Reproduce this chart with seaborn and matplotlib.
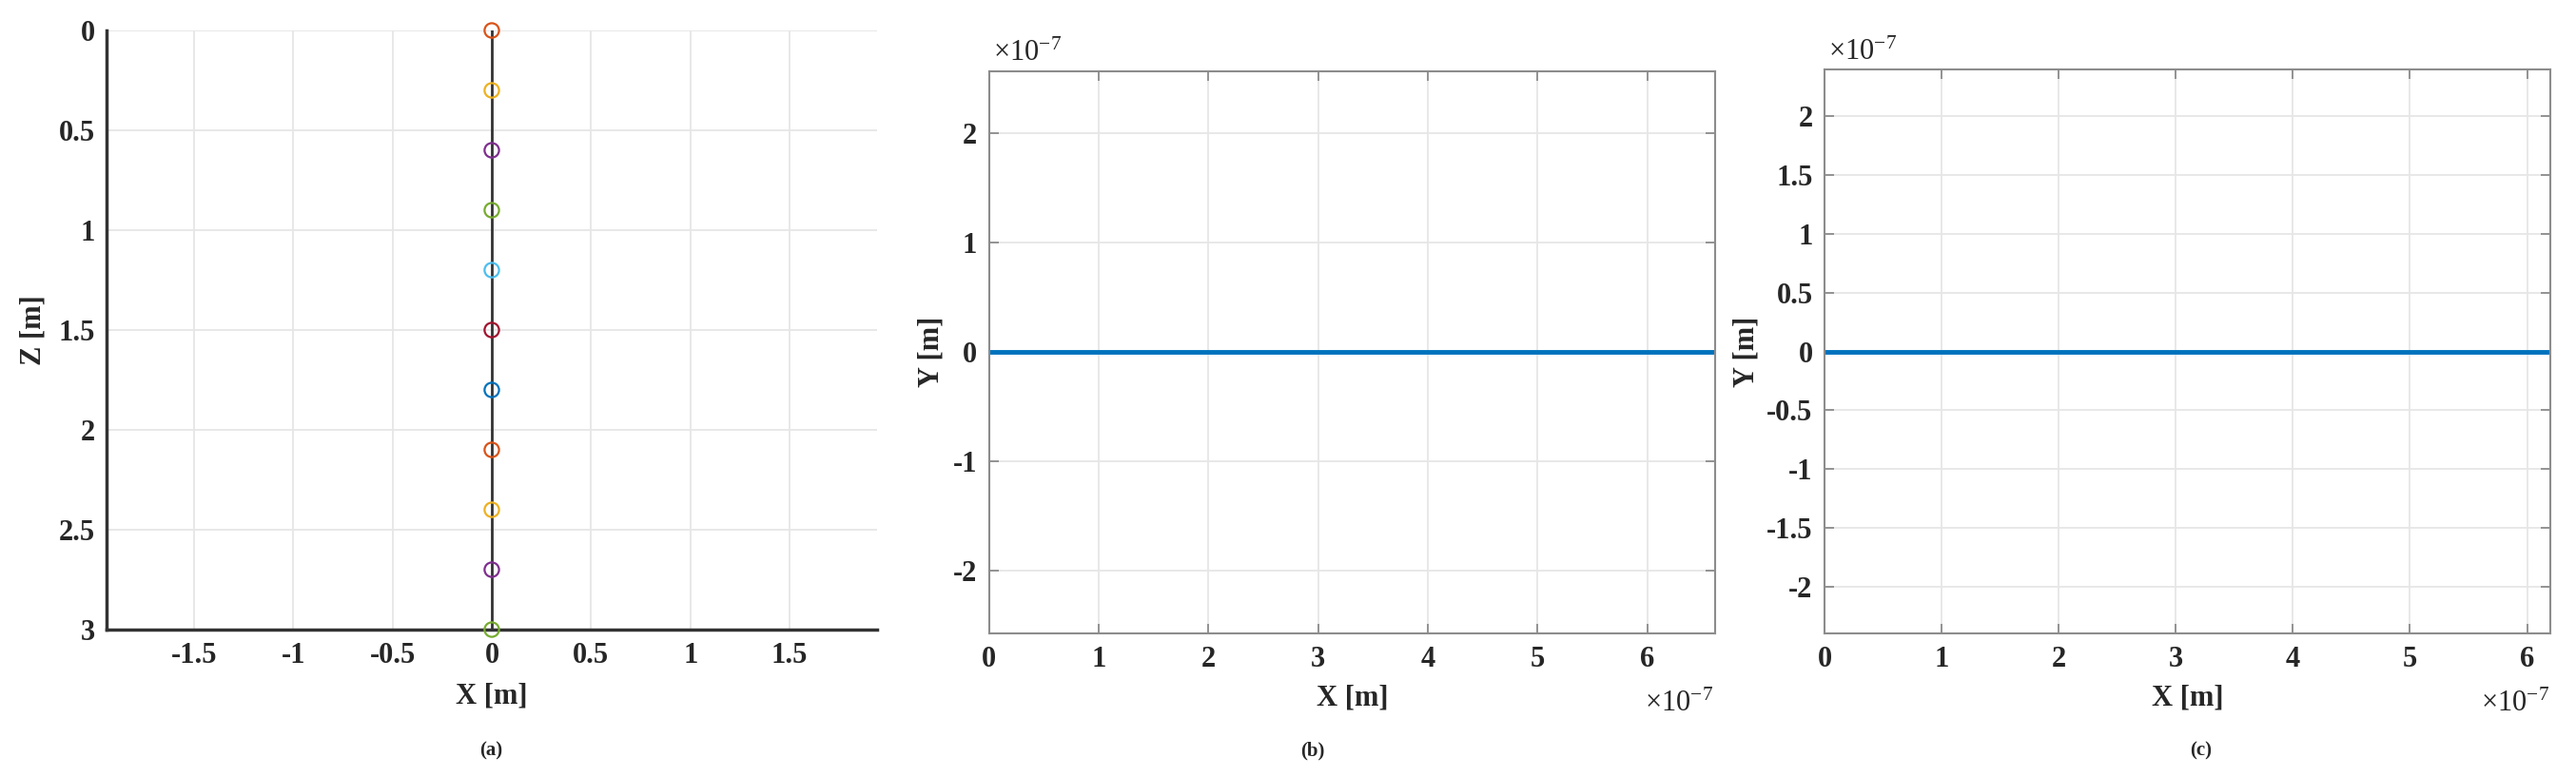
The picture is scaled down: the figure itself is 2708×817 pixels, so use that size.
import matplotlib
matplotlib.use("Agg")
import matplotlib.pyplot as plt
import seaborn as sns
import numpy as np
import pandas as pd
from matplotlib.ticker import FuncFormatter

# ---- datos ----
# (a) posiciones de los nodos del cable
x_nodos = [0, 0, 0, 0, 0, 0, 0, 0, 0, 0, 0]
z_nodos = [0.0, 0.3, 0.6, 0.9, 1.2, 1.5, 1.8, 2.1, 2.4, 2.7, 3.0]
colores_nodos = ["#D95319", "#EDB120", "#7E2F8E", "#77AC30", "#4DBEEE", "#A2142F",
                 "#0072BD", "#D95319", "#EDB120", "#7E2F8E", "#77AC30"]
# (b) trayectoria X-Y
x_b = [0.0, 1e-7, 2e-7, 3e-7, 4e-7, 5e-7, 6e-7, 6.62e-7]
y_b = [0, 0, 0, 0, 0, 0, 0, 0]
# (c) trayectoria X-Y
x_c = [0.0, 1e-7, 2e-7, 3e-7, 4e-7, 5e-7, 6e-7, 6.2e-7]
y_c = [0, 0, 0, 0, 0, 0, 0, 0]

sns.set_style("white")
plt.rcParams['font.family'] = ['Liberation Serif', 'DejaVu Serif']
plt.rcParams['mathtext.fontset'] = 'custom'
plt.rcParams['mathtext.rm'] = 'Liberation Serif'
plt.rcParams['mathtext.default'] = 'rm'
plt.rcParams['axes.unicode_minus'] = False

fs = 22
grid_c = "#e6e6e6"

fig = plt.figure(figsize=(27.08, 8.17), dpi=100)

# ------------------ (a) ------------------
ax1 = fig.add_axes([0.04136, 0.1897, 0.2991, 0.7711])
df_a = pd.DataFrame({"x": x_nodos, "z": z_nodos, "nodo": range(len(z_nodos))})
sns.lineplot(data=df_a, x="x", y="z", sort=False, estimator=None, color="#333333",
             lw=2, ax=ax1, zorder=2)
sns.scatterplot(data=df_a, x="x", y="z", hue="nodo", palette=colores_nodos, s=120,
                linewidth=1.6, legend=False, ax=ax1, zorder=3, clip_on=False)
pts = ax1.collections[-1]
pts.set_edgecolors(pts.get_facecolors())
pts.set_facecolors("none")

ax1.set_xlim(-1.94, 1.94)
ax1.set_ylim(3, 0)
ax1.set_xticks([-1.5, -1, -0.5, 0, 0.5, 1, 1.5])
ax1.set_yticks([0, 0.5, 1, 1.5, 2, 2.5, 3])
ax1.xaxis.set_major_formatter(FuncFormatter(lambda v, p: f"{v:g}"))
ax1.yaxis.set_major_formatter(FuncFormatter(lambda v, p: f"{v:g}"))
ax1.grid(True, color=grid_c, lw=1.3)
for s in ["top", "right"]:
    ax1.spines[s].set_visible(False)
for s in ["left", "bottom"]:
    ax1.spines[s].set_color("#333333")
    ax1.spines[s].set_linewidth(2.5)
ax1.tick_params(direction="in", length=8, width=1.5, color="#333333", labelsize=fs, pad=9)
for t in ax1.get_xticklabels() + ax1.get_yticklabels():
    t.set_fontweight("bold")
ax1.set_xlabel("X [m]", fontsize=fs, fontweight="bold")
ax1.set_ylabel("Z [m]", fontsize=fs, fontweight="bold")
ax1.xaxis.label.set_va("center")
ax1.yaxis.label.set_va("center")
ax1.xaxis.set_label_coords(0.5, -0.111)
ax1.yaxis.set_label_coords(-0.095, 0.5)


def panel_xy(ax, xs, ys, xmax, ymax, yticks, lab_x):
    sns.lineplot(x=xs, y=ys, color="#0072BD", lw=3.5, ax=ax)
    ax.set_xlim(0, xmax)
    ax.set_ylim(-ymax, ymax)
    ax.set_xticks([i * 1e-7 for i in range(7)])
    ax.set_yticks(yticks)
    fmt = FuncFormatter(lambda v, p: f"{round(v / 1e-7, 3):g}")
    ax.xaxis.set_major_formatter(fmt)
    ax.yaxis.set_major_formatter(fmt)
    ax.grid(True, color=grid_c, lw=1.3)
    for s in ax.spines.values():
        s.set_color("#8c8c8c")
        s.set_linewidth(1.5)
    ax.tick_params(direction="in", length=7, width=1.3, color="#8c8c8c", labelsize=fs,
                   pad=9, top=True, right=True, bottom=True, left=True)
    for t in ax.get_xticklabels() + ax.get_yticklabels():
        t.set_fontweight("bold")
    ax.set_xlabel("X [m]", fontsize=fs, fontweight="bold")
    ax.set_ylabel("Y [m]", fontsize=fs, fontweight="bold")
    ax.xaxis.label.set_va("center")
    ax.yaxis.label.set_va("center")
    ax.xaxis.set_label_coords(0.5, -0.115)
    ax.yaxis.set_label_coords(lab_x, 0.5)
    ax.text(0.005, 1.03, r"×10$^{-7}$", transform=ax.transAxes, fontsize=fs,
            ha="left", va="center", color="#262626")
    ax.text(0.998, -0.125, r"×10$^{-7}$", transform=ax.transAxes, fontsize=fs,
            ha="right", va="center", color="#262626")


# ------------------ (b) ------------------
ax2 = fig.add_axes([0.3840, 0.1848, 0.2818, 0.7240])
panel_xy(ax2, x_b, y_b, 6.62e-7, 2.57e-7, [-2e-7, -1e-7, 0, 1e-7, 2e-7], -0.080)

# ------------------ (c) ------------------
ax3 = fig.add_axes([0.7083, 0.1848, 0.2818, 0.7258])
panel_xy(ax3, x_c, y_c, 6.2e-7, 2.4e-7,
         [-2e-7, -1.5e-7, -1e-7, -0.5e-7, 0, 0.5e-7, 1e-7, 1.5e-7, 2e-7], -0.107)

# subtitulos
for xp, lab in [(516, "(a)"), (1380, "(b)"), (2314, "(c)")]:
    fig.text(xp / 2708, 1 - 789 / 817, lab, fontsize=15, fontweight="bold",
             ha="center", va="center")

fig.savefig("out.png", dpi=100)
